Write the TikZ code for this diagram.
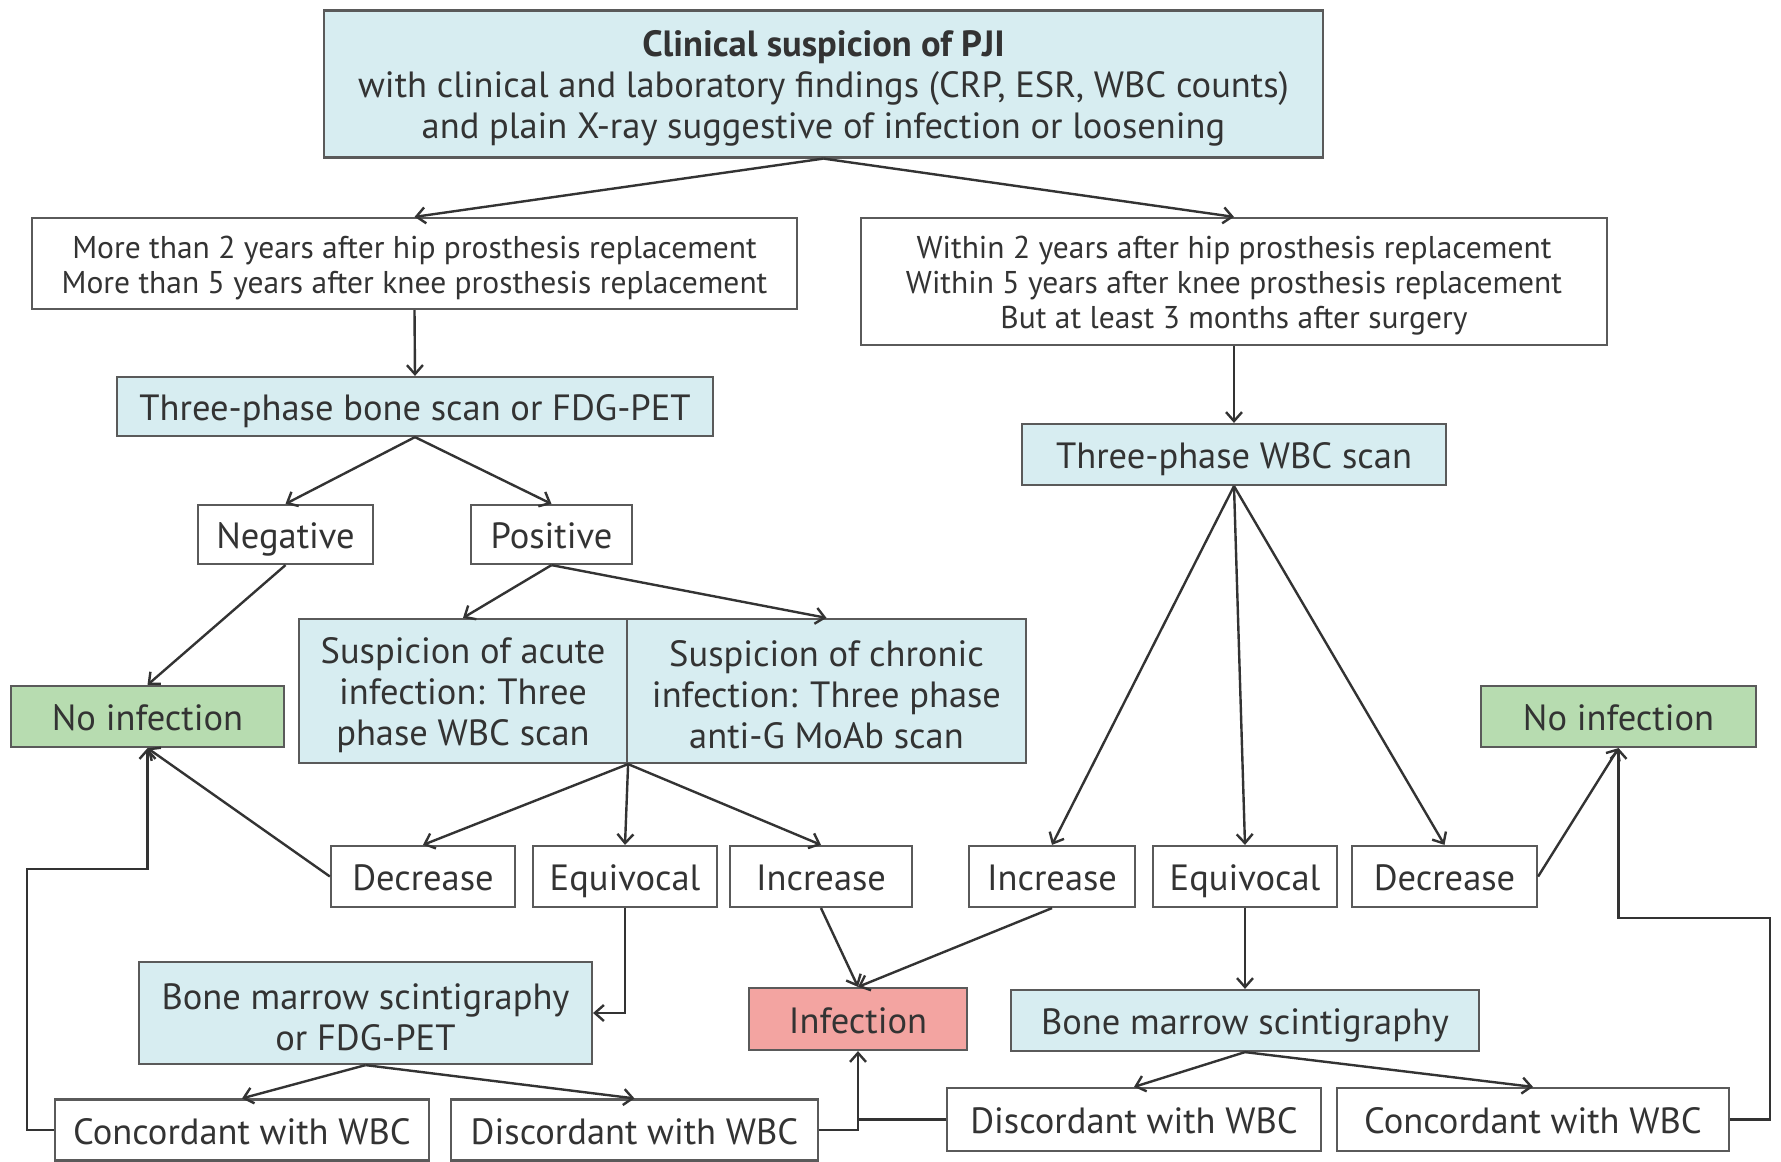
\documentclass[tikz,border=0pt]{standalone}
\usepackage{fontspec}
\setmainfont{PT Sans}
\usetikzlibrary{arrows.meta}
\definecolor{bluef}{HTML}{D7EDF1}
\definecolor{greenf}{HTML}{B7DCB0}
\definecolor{redf}{HTML}{F3A4A1}
\definecolor{bord}{HTML}{5A5A5A}
\definecolor{txt}{HTML}{333333}
\newcommand{\pushbig}{\rule{0pt}{34pt}}
\newcommand{\pushsmall}{\rule{0pt}{31pt}}
\begin{document}
\begin{tikzpicture}[x=1pt,y=-1pt,
  box/.style={draw=bord, line width=2.2pt, inner sep=0pt, text=txt, align=center, font=\fontsize{36.5}{41}\selectfont},
  one/.style={text height=32pt, text depth=4pt},
  small/.style={box, font=\fontsize{31.5}{35}\selectfont},
  blue/.style={fill=bluef},
  green/.style={fill=greenf},
  red/.style={fill=redf},
  white/.style={fill=white},
  arr/.style={draw=txt, line width=2.4pt, -{Straight Barb[length=9pt,width=16pt,line width=2.4pt]}},
  ln/.style={draw=txt, line width=2.4pt}]
\useasboundingbox[fill=white] (0,0) rectangle (1781,1162);

\node[box,blue,minimum width=999pt,minimum height=147pt] (top) at (823.5,84)
  {\pushbig\textbf{Clinical suspicion of PJI}\\with clinical and laboratory findings (CRP, ESR, WBC counts)\\and plain X-ray suggestive of infection or loosening};
\node[small,white,minimum width=765pt,minimum height=91pt] (l1) at (414.5,263.5)
  {\pushsmall More than 2 years after hip prosthesis replacement\\More than 5 years after knee prosthesis replacement};
\node[small,white,minimum width=746pt,minimum height=127pt] (r1) at (1234,281.5)
  {\pushsmall Within 2 years after hip prosthesis replacement\\Within 5 years after knee prosthesis replacement\\But at least 3 months after surgery};
\node[box,one,blue,minimum width=596pt,minimum height=59pt] (bone) at (415,406.5) {Three-phase bone scan or FDG-PET};
\node[box,one,blue,minimum width=424pt,minimum height=61pt] (wbc) at (1234,454.5) {Three-phase WBC scan};
\node[box,one,white,minimum width=175pt,minimum height=59pt] (neg) at (285.5,534.5) {Negative};
\node[box,one,white,minimum width=161pt,minimum height=59pt] (pos) at (551.5,534.5) {Positive};
\node[box,blue,minimum width=328pt,minimum height=144pt] (acute) at (463,691) {\pushbig Suspicion of acute\\infection: Three\\phase WBC scan};
\node[box,blue,minimum width=399pt,minimum height=144pt] (chronic) at (826.5,691) {\pushbig Suspicion of chronic\\infection: Three phase\\anti-G MoAb scan};
\node[box,one,green,minimum width=273pt,minimum height=61pt] (noinfL) at (147.5,716.5) {No infection};
\node[box,one,green,minimum width=275pt,minimum height=61pt] (noinfR) at (1618.5,716.5) {No infection};
\node[box,one,white,minimum width=184pt,minimum height=61pt] (decL) at (423,876.5) {Decrease};
\node[box,one,white,minimum width=184pt,minimum height=61pt] (eqL) at (625,876.5) {Equivocal};
\node[box,one,white,minimum width=182pt,minimum height=61pt] (incL) at (821,876.5) {Increase};
\node[box,one,white,minimum width=166pt,minimum height=61pt] (incR) at (1052,876.5) {Increase};
\node[box,one,white,minimum width=184pt,minimum height=61pt] (eqR) at (1245,876.5) {Equivocal};
\node[box,one,white,minimum width=185pt,minimum height=61pt] (decR) at (1444.5,876.5) {Decrease};
\node[box,blue,minimum width=453pt,minimum height=102pt] (bmL) at (365.5,1013) {\pushbig Bone marrow scintigraphy\\or FDG-PET};
\node[box,one,red,minimum width=218pt,minimum height=62pt] (inf) at (858,1019) {Infection};
\node[box,one,blue,minimum width=468pt,minimum height=61pt] (bmR) at (1245,1020.5) {Bone marrow scintigraphy};
\node[box,one,white,minimum width=374pt,minimum height=61pt] (concL) at (242,1130) {Concordant with WBC};
\node[box,one,white,minimum width=367pt,minimum height=61pt] (discL) at (634.5,1130) {Discordant with WBC};
\node[box,one,white,minimum width=374pt,minimum height=63pt] (discR) at (1134,1119.5) {Discordant with WBC};
\node[box,one,white,minimum width=392pt,minimum height=63pt] (concR) at (1533,1119.5) {Concordant with WBC};

\draw[arr] (top.south) -- (l1.north);
\draw[arr] (top.south) -- (r1.north);
\draw[arr] (l1.south) -- (bone.north);
\draw[arr] (r1.south) -- (wbc.north);
\draw[arr] (bone.south) -- (neg.north);
\draw[arr] (bone.south) -- (pos.north);
\draw[arr] (neg.south) -- (noinfL.north);
\draw[arr] (pos.south) -- (acute.north);
\draw[arr] (pos.south) -- (chronic.north);
\draw[arr] (acute.south east) -- (decL.north);
\draw[arr] (acute.south east) -- (eqL.north);
\draw[arr] (acute.south east) -- (incL.north);
\draw[arr] (decL.west) -- (noinfL.south);
\draw[arr] (eqL.south) |- (bmL.east);
\draw[arr] (incL.south) -- (inf.north);
\draw[arr] (incR.south) -- (inf.north);
\draw[arr] (wbc.south) -- (incR.north);
\draw[arr] (wbc.south) -- (eqR.north);
\draw[arr] (wbc.south) -- (decR.north);
\draw[arr] (decR.east) -- (noinfR.south);
\draw[arr] (eqR.south) -- (bmR.north);
\draw[arr] (bmL.south) -- (concL.north);
\draw[arr] (bmL.south) -- (discL.north);
\draw[arr] (bmR.south) -- (discR.north);
\draw[arr] (bmR.south) -- (concR.north);
\draw[arr] (concL.west) -- (27,1130) -- (27,869) -| (noinfL.south);
\draw[arr] (discL.east) -| (inf.south);
\draw[ln] (discR.west) -- (inf.south |- discR.west);
\draw[arr] (concR.east) -- (1770,1119.5) -- (1770,918) -| (noinfR.south);
\end{tikzpicture}
\end{document}
